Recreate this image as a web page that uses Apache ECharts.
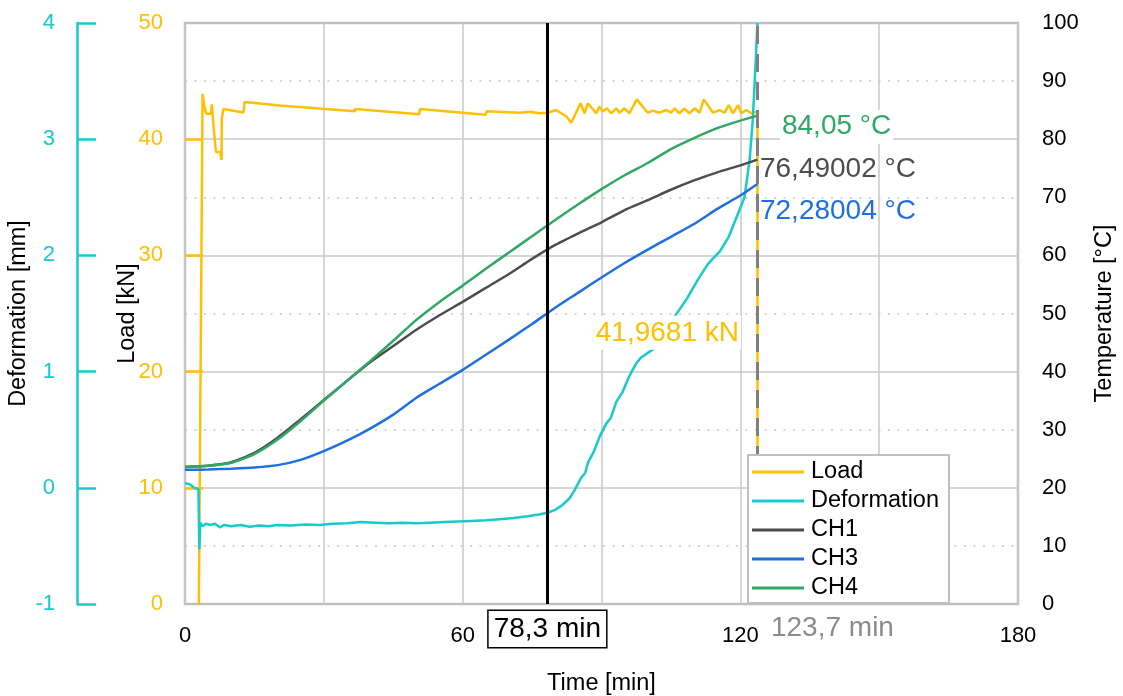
<!DOCTYPE html>
<html>
<head>
<meta charset="utf-8">
<script src="https://cdn.jsdelivr.net/npm/echarts@6/dist/echarts.min.js"></script>
<style>
  html, body { margin: 0; padding: 0; background: #fff; }
  #chart { width: 1123px; height: 696px; }
</style>
</head>
<body>
<div id="chart"></div>
<script>
// Fire test record: load, deformation and thermocouple temperatures over time
const loadTime = [3.0, 3.8, 4.2, 4.6, 5.6, 5.8, 6.0, 6.2, 6.6, 6.7, 7.6, 7.9, 7.95, 8.3, 12.6, 12.9, 20.5, 36.7, 36.8, 50.6, 50.8, 65.0, 65.2, 72.3, 74.5, 76.6, 78.4, 80.2, 81.3, 82.4, 83.46, 85.47, 86.33, 87.05, 88.85, 89.57, 90.29, 91.15, 92.09, 93.16, 93.88, 94.96, 96.04, 97.62, 100.0, 101.1, 102.5, 104.0, 105.0, 105.8, 106.8, 107.9, 109.0, 110.1, 111.2, 112.1, 114.1, 115.5, 116.6, 117.5, 118.4, 119.5, 120.2, 121.3, 122.4, 123.6, 123.7, 123.7];
const loadKN = [0, 43.9, 42.8, 42.2, 42.2, 43.0, 42.9, 40.9, 40.9, 38.9, 38.9, 38.2, 41.8, 42.6, 42.3, 43.2, 42.9, 42.4, 42.6, 42.15, 42.6, 42.1, 42.4, 42.28, 42.37, 42.23, 42.28, 42.51, 42.23, 41.95, 41.42, 43.09, 42.23, 43.09, 42.23, 42.8, 42.37, 42.66, 42.23, 42.66, 42.28, 42.66, 42.23, 43.43, 42.28, 42.46, 42.28, 42.51, 42.28, 42.66, 42.23, 42.62, 42.23, 42.66, 42.28, 43.43, 42.28, 42.51, 42.28, 42.94, 42.23, 42.94, 42.23, 42.51, 42.23, 42.37, 41.9681, 0];

const defTime = [0, 1.0, 2.0, 2.9, 3.1, 3.3, 3.8, 4.5, 5.5, 6.5, 7.5, 8.5, 10, 12, 14, 16, 18, 20, 23, 26, 29, 32, 35, 38, 41, 44, 47, 50, 53, 56, 59, 62, 65, 68, 71, 74, 76.5, 78.3, 80, 81.5, 83.1, 84.2, 85.5, 86.5, 87.1, 88.2, 89.6, 91, 92, 93.2, 94.5, 96, 97.5, 98.5, 101.4, 103.5, 106.1, 108.5, 110.8, 112.9, 114, 115.5, 117.5, 119.1, 120.9, 122, 122.7, 123.4, 123.7];
const defMM = [0.04, 0.03, 0.0, -0.01, -0.53, -0.3, -0.33, -0.31, -0.32, -0.31, -0.34, -0.32, -0.33, -0.32, -0.335, -0.325, -0.33, -0.32, -0.325, -0.315, -0.32, -0.31, -0.305, -0.295, -0.3, -0.305, -0.3, -0.305, -0.3, -0.295, -0.29, -0.285, -0.28, -0.27, -0.26, -0.245, -0.23, -0.215, -0.19, -0.15, -0.09, -0.02, 0.08, 0.13, 0.22, 0.3, 0.44, 0.55, 0.6, 0.74, 0.82, 0.96, 1.07, 1.12, 1.2, 1.33, 1.49, 1.63, 1.79, 1.92, 1.97, 2.03, 2.16, 2.32, 2.5, 2.82, 3.17, 3.74, 4.0];

const tempTime = [0, 5, 10, 15, 20, 25, 30, 35, 40, 45, 50, 55, 60, 65, 70, 75, 80, 85, 90, 95, 100, 105, 110, 115, 120, 123.7];
const ch1 = [23.6, 23.8, 24.4, 26.0, 28.6, 31.8, 35.1, 38.4, 41.6, 44.4, 47.2, 49.7, 52.0, 54.4, 56.8, 59.4, 61.8, 63.8, 65.7, 67.8, 69.5, 71.3, 72.9, 74.3, 75.5, 76.49002];
const ch3 = [23.1, 23.15, 23.3, 23.5, 23.9, 24.8, 26.3, 28.1, 30.2, 32.6, 35.5, 37.9, 40.3, 42.9, 45.5, 48.2, 51.0, 53.6, 56.2, 58.7, 61.0, 63.2, 65.4, 68.0, 70.3, 72.28004];
const ch4 = [23.6, 23.8, 24.3, 25.8, 28.3, 31.5, 35.0, 38.4, 41.8, 45.3, 48.9, 52.0, 54.8, 57.7, 60.5, 63.3, 66.1, 68.8, 71.4, 73.8, 75.9, 78.3, 80.2, 81.9, 83.2, 84.05];

const timeMarks = [78.3, 123.7];
const xTickLabels = [0, 60, 120, 180];
const loadTicks = [10, 20, 30, 40];

const FONT = "'Liberation Sans', Arial, sans-serif";
const C_LOAD = '#FFC000';
const C_DEF = '#17CACB';
const C_CH1 = '#4D4D4D';
const C_CH3 = '#1E6FE0';
const C_CH4 = '#2FA866';
const GRID_C = '#c8c8c8';

const comma = v => String(v).replace('.', ',');
const pairs = (xs, ys) => xs.map((x, i) => [x, ys[i]]);

// value label at the last sample of a temperature channel
function endLabel(values, color, dist, dy, bg) {
  const last = values.length - 1;
  return {
    silent: true,
    symbol: 'circle',
    symbolSize: 1,
    itemStyle: { color: 'rgba(0,0,0,0)' },
    data: [{ coord: [tempTime[last], values[last]] }],
    label: {
      show: true,
      position: 'right',
      distance: dist,
      offset: [0, dy],
      color: color,
      fontFamily: FONT,
      fontSize: 28,
      backgroundColor: bg ? '#fff' : 'transparent',
      padding: bg ? [3, 2] : 0,
      formatter: () => comma(values[last]) + ' °C'
    }
  };
}

const chart = echarts.init(document.getElementById('chart'), null, { renderer: 'canvas' });

const option = {
  animation: false,
  backgroundColor: '#fff',
  textStyle: { fontFamily: FONT },
  grid: {
    left: 185, right: 105, top: 23, bottom: 92,
    outerBoundsMode: 'none',
    containLabel: false,
    show: true, borderColor: '#bfbfbf', borderWidth: 2.5, backgroundColor: 'transparent'
  },
  legend: {
    orient: 'vertical',
    left: 748, top: 455,
    z: 50,
    padding: [5, 10, 3, 4],
    itemGap: 5,
    itemWidth: 52, itemHeight: 3,
    icon: 'rect',
    backgroundColor: '#fff',
    borderColor: '#c0c0c0', borderWidth: 2,
    textStyle: { fontFamily: FONT, fontSize: 23.5, lineHeight: 24, color: '#000', padding: [0, 0, 0, 2] },
    data: ['Load', 'Deformation', 'CH1', 'CH3', 'CH4']
  },
  xAxis: {
    type: 'value', min: 0, max: 180, interval: 30,
    name: 'Time [min]', nameLocation: 'middle', nameGap: 68,
    nameTextStyle: { fontFamily: FONT, fontSize: 23.5, color: '#000' },
    axisLine: { show: false }, axisTick: { show: false },
    axisLabel: {
      margin: 21, fontFamily: FONT, fontSize: 22, color: '#000',
      formatter: v => xTickLabels.indexOf(v) >= 0 ? String(v) : ''
    },
    splitLine: { show: true, lineStyle: { color: GRID_C, width: 1.5 } }
  },
  yAxis: [
    {
      type: 'value', position: 'left', min: 0, max: 50, interval: 10,
      name: 'Load [kN]', nameLocation: 'middle', nameGap: 45, nameMoveOverlap: false,
      nameTextStyle: { fontFamily: FONT, fontSize: 23.5, color: '#000' },
      axisLine: { show: false },
      axisTick: { show: true, inside: true, length: 18, customValues: loadTicks, lineStyle: { color: C_LOAD, width: 2.5 } },
      axisLabel: { margin: 22, fontFamily: FONT, fontSize: 22, color: C_LOAD },
      splitLine: { show: true, lineStyle: { color: GRID_C, width: 1.5 } },
      minorTick: { show: false, splitNumber: 2 },
      minorSplitLine: { show: true, lineStyle: { color: GRID_C, width: 1.5, type: [2, 7.5] } }
    },
    {
      type: 'value', position: 'left', offset: 108, min: -1, max: 4, interval: 1,
      name: 'Deformation [mm]', nameLocation: 'middle', nameGap: 46, nameMoveOverlap: false,
      nameTextStyle: { fontFamily: FONT, fontSize: 23.5, color: '#000' },
      axisLine: { show: true, lineStyle: { color: C_DEF, width: 2.5 } },
      axisTick: { show: true, inside: true, length: 19, lineStyle: { color: C_DEF, width: 2.5 } },
      axisLabel: { margin: 22, fontFamily: FONT, fontSize: 22, color: C_DEF },
      splitLine: { show: false }
    },
    {
      type: 'value', position: 'right', min: 0, max: 100, interval: 10,
      name: 'Temperature [°C]', nameLocation: 'middle', nameGap: 75,
      nameTextStyle: { fontFamily: FONT, fontSize: 23.5, color: '#000' },
      axisLine: { show: false }, axisTick: { show: false },
      axisLabel: { margin: 24, fontFamily: FONT, fontSize: 22, color: '#000' },
      splitLine: { show: false }
    }
  ],
  series: [
    {
      name: 'Load', type: 'line', yAxisIndex: 0, showSymbol: false, symbol: 'none',
      color: C_LOAD, lineStyle: { width: 2.5, color: C_LOAD },
      data: pairs(loadTime, loadKN),
      markPoint: {
        silent: true, symbol: 'circle', symbolSize: 1,
        itemStyle: { color: 'rgba(0,0,0,0)' },
        data: [{ coord: [loadTime[loadTime.length - 2], loadKN[loadKN.length - 2]] }],
        label: {
          show: true, position: 'left', distance: 16, offset: [0, 216.5],
          color: C_LOAD, fontFamily: FONT, fontSize: 28,
          backgroundColor: '#fff', padding: [3, 2],
          formatter: () => comma(loadKN[loadKN.length - 2]) + ' kN'
        }
      }
    },
    {
      name: 'Deformation', type: 'line', yAxisIndex: 1, showSymbol: false, symbol: 'none',
      color: C_DEF, lineStyle: { width: 2.5, color: C_DEF },
      data: pairs(defTime, defMM)
    },
    {
      name: 'CH1', type: 'line', yAxisIndex: 2, showSymbol: false, symbol: 'none',
      smooth: 0.2,
      color: C_CH1, lineStyle: { width: 2.5, color: C_CH1 },
      data: pairs(tempTime, ch1),
      markPoint: endLabel(ch1, C_CH1, 2, 10, false)
    },
    {
      name: 'CH3', type: 'line', yAxisIndex: 2, showSymbol: false, symbol: 'none',
      smooth: 0.2,
      color: C_CH3, lineStyle: { width: 2.5, color: C_CH3 },
      data: pairs(tempTime, ch3),
      markPoint: endLabel(ch3, C_CH3, 2, 27.6, false)
    },
    {
      name: 'CH4', type: 'line', yAxisIndex: 2, showSymbol: false, symbol: 'none',
      smooth: 0.2,
      color: C_CH4, lineStyle: { width: 2.5, color: C_CH4 },
      data: pairs(tempTime, ch4),
      markPoint: endLabel(ch4, C_CH4, 22, 11, true),
      markLine: {
        silent: true, symbol: ['none', 'none'],
        data: [
          {
            xAxis: timeMarks[0],
            lineStyle: { color: '#000', width: 3, type: 'solid' },
            label: {
              show: true, position: 'start', distance: 7,
              formatter: p => comma(p.value) + ' min',
              color: '#000', fontFamily: FONT, fontSize: 28,
              borderColor: '#000', borderWidth: 1.5, padding: [4, 5], backgroundColor: '#fff'
            }
          },
          {
            xAxis: timeMarks[1],
            lineStyle: { color: '#808080', width: 3, type: [18, 10] },
            label: {
              show: true, position: 'start', distance: 5, offset: [75, 5],
              formatter: p => comma(p.value) + ' min',
              color: '#8c8c8c', fontFamily: FONT, fontSize: 28
            }
          }
        ]
      }
    }
  ]
};

chart.setOption(option);
</script>
</body>
</html>
